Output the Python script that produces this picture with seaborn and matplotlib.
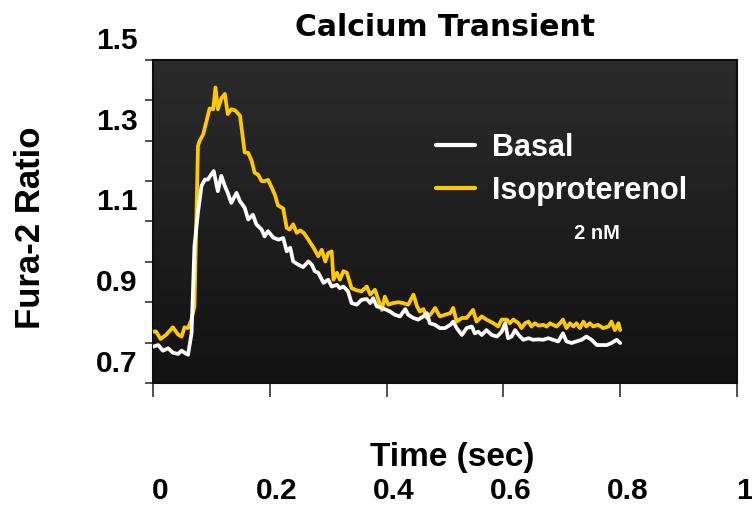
import numpy as np
import pandas as pd
import matplotlib
matplotlib.use("Agg")
import matplotlib.pyplot as plt
import seaborn as sns
from matplotlib.transforms import ScaledTranslation
from matplotlib.colors import LinearSegmentedColormap

# ---------------- data (time in s, Fura-2 ratio) ----------------
basal_points = [
    (0.000, 0.790), (0.009, 0.794), (0.017, 0.780), (0.026, 0.786), (0.034, 0.775),
    (0.043, 0.772), (0.049, 0.780), (0.054, 0.775), (0.060, 0.770), (0.066, 0.823),
    (0.071, 1.039), (0.077, 1.122), (0.083, 1.188), (0.089, 1.204), (0.094, 1.204),
    (0.100, 1.217), (0.104, 1.225), (0.111, 1.175), (0.117, 1.213), (0.123, 1.188),
    (0.128, 1.171), (0.134, 1.146), (0.143, 1.171), (0.149, 1.150), (0.157, 1.134),
    (0.163, 1.105), (0.171, 1.117), (0.177, 1.093), (0.186, 1.080), (0.191, 1.063),
    (0.197, 1.076), (0.206, 1.060), (0.215, 1.055), (0.223, 1.059), (0.229, 1.026),
    (0.235, 1.035), (0.240, 1.001), (0.249, 0.993), (0.257, 0.987), (0.266, 1.001),
    (0.272, 0.993), (0.277, 0.977), (0.283, 0.973), (0.292, 0.948), (0.300, 0.956),
    (0.306, 0.939), (0.315, 0.943), (0.320, 0.935), (0.326, 0.939), (0.334, 0.927),
    (0.340, 0.898), (0.349, 0.894), (0.357, 0.906), (0.366, 0.908), (0.372, 0.898),
    (0.377, 0.910), (0.383, 0.890), (0.392, 0.886), (0.400, 0.881), (0.406, 0.877),
    (0.414, 0.869), (0.423, 0.865), (0.432, 0.883), (0.437, 0.869), (0.446, 0.861),
    (0.454, 0.857), (0.463, 0.865), (0.469, 0.873), (0.474, 0.848), (0.483, 0.844),
    (0.491, 0.836), (0.500, 0.836), (0.509, 0.844), (0.514, 0.852), (0.520, 0.836),
    (0.529, 0.819), (0.537, 0.836), (0.546, 0.840), (0.551, 0.823), (0.557, 0.827),
    (0.563, 0.819), (0.571, 0.831), (0.580, 0.819), (0.589, 0.815), (0.597, 0.827),
    (0.603, 0.848), (0.608, 0.811), (0.614, 0.815), (0.620, 0.831), (0.626, 0.819),
    (0.634, 0.807), (0.643, 0.811), (0.651, 0.807), (0.660, 0.808), (0.668, 0.807),
    (0.677, 0.811), (0.685, 0.807), (0.694, 0.803), (0.702, 0.823), (0.708, 0.803),
    (0.717, 0.799), (0.725, 0.803), (0.734, 0.807), (0.742, 0.815), (0.751, 0.807),
    (0.760, 0.794), (0.768, 0.794), (0.777, 0.794), (0.785, 0.799), (0.794, 0.807),
    (0.800, 0.799),
]

iso_points = [
    (0.000, 0.827), (0.005, 0.828), (0.013, 0.809), (0.023, 0.820), (0.034, 0.838),
    (0.043, 0.820), (0.049, 0.815), (0.054, 0.838), (0.060, 0.836), (0.066, 0.857),
    (0.071, 0.890), (0.077, 1.287), (0.080, 1.300), (0.086, 1.316), (0.097, 1.380),
    (0.103, 1.378), (0.107, 1.432), (0.111, 1.378), (0.117, 1.405), (0.123, 1.416),
    (0.128, 1.366), (0.134, 1.378), (0.141, 1.375), (0.149, 1.362), (0.157, 1.271),
    (0.163, 1.270), (0.169, 1.250), (0.174, 1.221), (0.180, 1.216), (0.186, 1.200),
    (0.191, 1.200), (0.197, 1.203), (0.203, 1.185), (0.209, 1.165), (0.214, 1.140),
    (0.223, 1.132), (0.229, 1.084), (0.234, 1.080), (0.240, 1.093), (0.246, 1.072),
    (0.252, 1.078), (0.258, 1.072), (0.266, 1.055), (0.275, 1.035), (0.283, 1.014),
    (0.289, 1.030), (0.295, 1.001), (0.300, 1.022), (0.306, 1.026), (0.309, 0.956),
    (0.315, 0.973), (0.320, 0.956), (0.326, 0.977), (0.332, 0.973), (0.340, 0.935),
    (0.348, 0.930), (0.357, 0.927), (0.366, 0.939), (0.372, 0.919), (0.380, 0.931),
    (0.386, 0.906), (0.392, 0.881), (0.397, 0.914), (0.403, 0.894), (0.411, 0.898),
    (0.420, 0.900), (0.428, 0.898), (0.437, 0.894), (0.446, 0.919), (0.452, 0.890),
    (0.457, 0.877), (0.463, 0.883), (0.469, 0.861), (0.477, 0.873), (0.483, 0.886),
    (0.491, 0.865), (0.500, 0.869), (0.509, 0.873), (0.514, 0.886), (0.520, 0.852),
    (0.529, 0.861), (0.537, 0.861), (0.548, 0.881), (0.554, 0.852), (0.563, 0.865),
    (0.571, 0.857), (0.583, 0.848), (0.591, 0.840), (0.597, 0.857), (0.606, 0.857),
    (0.611, 0.848), (0.617, 0.857), (0.626, 0.848), (0.631, 0.836), (0.637, 0.848),
    (0.643, 0.852), (0.648, 0.840), (0.654, 0.848), (0.660, 0.842), (0.668, 0.844),
    (0.674, 0.840), (0.680, 0.848), (0.685, 0.844), (0.691, 0.840), (0.697, 0.848),
    (0.702, 0.857), (0.708, 0.836), (0.714, 0.848), (0.720, 0.840), (0.725, 0.848),
    (0.731, 0.836), (0.737, 0.852), (0.742, 0.840), (0.748, 0.848), (0.754, 0.840),
    (0.762, 0.844), (0.771, 0.836), (0.780, 0.840), (0.785, 0.852), (0.791, 0.831),
    (0.797, 0.848), (0.800, 0.831),
]

series_labels = ["Basal", "Isoproterenol"]
series_colors = ["#FFFFFF", "#FFC800"]
x_ticks = [0, 0.2, 0.4, 0.6, 0.8, 1.0]
x_tick_labels = ["0", "0.2", "0.4", "0.6", "0.8", "1"]
y_ticks = [0.7, 0.9, 1.1, 1.3, 1.5]
y_tick_labels = ["0.7", "0.9", "1.1", "1.3", "1.5"]
y_minor = [0.8, 1.0, 1.2, 1.4]

# ---------------- build frames ----------------
basal_df = pd.DataFrame(basal_points, columns=["time", "ratio"])
iso_df = pd.DataFrame(iso_points, columns=["time", "ratio"])

sns.set_theme(style="white")
plt.rcParams["font.family"] = ["Liberation Sans", "DejaVu Sans"]

W, H = 752, 505
fig = plt.figure(figsize=(W / 100, H / 100), dpi=100)
fig.patch.set_facecolor("white")
ax = fig.add_axes([153 / W, (H - 383) / H, 584 / W, 323 / H])

# gradient background of the plot area
cmap = LinearSegmentedColormap.from_list("bg", ["#121212", "#2b2b2b"])
grad = np.linspace(1, 0, 256).reshape(-1, 1)
ax.imshow(grad, cmap=cmap, aspect="auto", extent=(0, 1, 0, 1),
          transform=ax.transAxes, zorder=0, interpolation="bicubic")

sns.lineplot(data=iso_df, x="time", y="ratio", ax=ax, color=series_colors[1],
             linewidth=2.7, sort=False, label=series_labels[1], zorder=3)
sns.lineplot(data=basal_df, x="time", y="ratio", ax=ax, color=series_colors[0],
             linewidth=2.7, sort=False, label=series_labels[0], zorder=4)

ax.set_xlim(0, 1)
ax.set_ylim(0.7, 1.5)

ax.set_xticks(x_ticks)
ax.set_xticklabels(x_tick_labels, fontsize=21.5, fontweight="bold")
ax.set_yticks(y_ticks)
ax.set_yticklabels(y_tick_labels, fontsize=21.5, fontweight="bold")
ax.set_yticks(y_minor, minor=True)

ax.tick_params(axis="x", which="major", bottom=True, direction="out", length=10,
               width=1.2, color="#333333", pad=58, labelcolor="black")
ax.tick_params(axis="y", which="both", left=True, direction="out", length=6,
               width=1.2, color="#333333", pad=5, labelcolor="black")

# labels sit offset from their tick marks, as in the reference
for t in ax.yaxis.get_major_ticks():
    t.label1.set_transform(t.label1.get_transform()
                           + ScaledTranslation(0, 0.22, fig.dpi_scale_trans))
for t in ax.xaxis.get_major_ticks():
    t.label1.set_transform(t.label1.get_transform()
                           + ScaledTranslation(0.07, 0, fig.dpi_scale_trans))

for s in ax.spines.values():
    s.set_color("#0d0d0d")
    s.set_linewidth(1.5)

ax.set_xlabel("Time (sec)", fontsize=24, fontweight="bold", color="black")
ax.xaxis.label.set_verticalalignment("center")
ax.xaxis.set_label_coords(0.512, -0.232)
ax.set_ylabel("Fura-2 Ratio", fontsize=25, fontweight="bold", color="black")
ax.yaxis.label.set_verticalalignment("center")
ax.yaxis.set_label_coords(-0.209, 0.481)

ax.set_title("Calcium Transient", fontfamily="DejaVu Sans", fontweight="bold",
             fontsize=21.5, pad=17, color="black")

handles, labels = ax.get_legend_handles_labels()
order = [labels.index(l) for l in series_labels]
leg = ax.legend([handles[i] for i in order], [labels[i] for i in order],
                loc="upper left", bbox_to_anchor=(0.4846, 0.774), frameon=False,
                borderpad=0, borderaxespad=0, handlelength=1.27,
                handletextpad=0.56, labelspacing=0.42,
                prop={"size": 22, "weight": "bold"})
for txt in leg.get_texts():
    txt.set_color("white")
for ln in leg.get_lines():
    ln.set_linewidth(3.0)

ax.text(0.760, 0.464, "2 nM", transform=ax.transAxes, ha="center", va="center",
        fontsize=14.5, fontweight="bold", color="white")

fig.savefig("out.png", dpi=100)
